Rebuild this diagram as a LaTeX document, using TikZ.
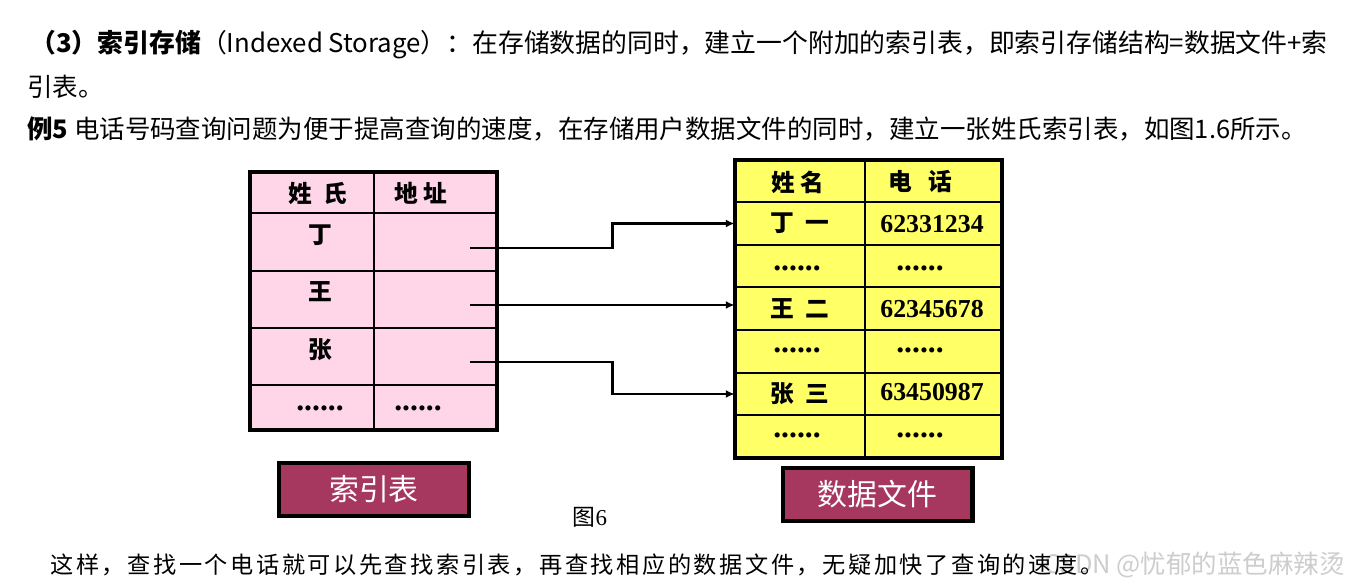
\documentclass[tikz,border=0pt]{standalone}
\usepackage{fontspec}
\setmainfont{Liberation Serif}
\newfontfamily\cjk{Noto Sans CJK SC}
\usetikzlibrary{arrows.meta}
\definecolor{idxpink}{RGB}{255,214,231}
\definecolor{datyellow}{RGB}{255,255,102}
\definecolor{tagplum}{RGB}{166,56,96}
\definecolor{wmgray}{RGB}{205,205,205}
\newcommand{\fsz}[1]{\fontsize{#1}{#1}\selectfont}
\tikzset{
  txt/.style={inner sep=0pt, anchor=west},
  celltxt/.style={inner sep=0pt, font=\cjk\bfseries\fsz{13.5pt}},
  numtxt/.style={inner sep=0pt, font=\bfseries\fsz{14.7pt}},
  dotstxt/.style={inner sep=0pt, font=\bfseries\fsz{18pt}},
  gridline/.style={line width=1.1pt},
  frame/.style={line width=2.2pt},
  ptr/.style={line width=1.7pt, -{Latex[length=5pt,width=4.5pt]}},
  tagbox/.style={draw=black, line width=2.3pt, fill=tagplum, text=white,
    minimum width=3.8cm, minimum height=1.06cm, inner sep=0pt, font=\cjk\fsz{17pt}},
}
\begin{document}
\begin{tikzpicture}[x=0.02cm, y=-0.02cm]
  \useasboundingbox[fill=white] (0,0) rectangle (1352,587);
  % heading text
  \node[txt, font=\cjk\fsz{14.7pt}] (para1a) at (30,45)
    {\textbf{（3）索引存储}（Indexed Storage）：在存储数据的同时，建立一个附加的索引表，即索引存储结构=数据文件+索};
  \node[txt, font=\cjk\fsz{14.5pt}] (para1b) at (27,87) {引表。};
  \node[txt, font=\cjk\fsz{14.5pt}] (ex5) at (27,129)
    {\textbf{例5} 电话号码查询问题为便于提高查询的速度，在存储用户数据文件的同时，建立一张姓氏索引表，如图1.6所示。};

  % index table
  \fill[idxpink] (250,172) rectangle (497,430);
  \draw[gridline] (374,172) -- (374,430);
  \foreach \y in {213,271,328,385}
    \draw[gridline] (250,\y) -- (497,\y);
  \draw[frame] (250,172) rectangle (497,430);
  \node[celltxt] (idxhead1) at (318,193) {姓\ \ 氏};
  \node[celltxt] (idxhead2) at (421,193) {地\ 址};
  \node[celltxt] (ding) at (320,235) {丁};
  \node[celltxt] (wang) at (320,292) {王};
  \node[celltxt] (zhang) at (320,350) {张};
  \node[dotstxt] (idxdots1) at (320,408) {......};
  \node[dotstxt] (idxdots2) at (418,408) {......};

  % data file table
  \fill[datyellow] (735,160) rectangle (1002,458);
  \draw[gridline] (865,160) -- (865,458);
  \foreach \y in {202,244.67,287.33,330,372.67,415.33}
    \draw[gridline] (735,\y) -- (1002,\y);
  \draw[frame] (735,160) rectangle (1002,458);
  \node[celltxt] (dathead1) at (798,182) {姓\ 名};
  \node[celltxt] (dathead2) at (920,182) {电\ \ \ 话};
  \node[celltxt, minimum width=2.6cm, minimum height=0.85cm] (dingyi) at (800,223.5) {丁\ \ 一};
  \node[celltxt, minimum width=2.6cm, minimum height=0.85cm] (wanger) at (800,308.5) {王\ \ 二};
  \node[celltxt, minimum width=2.6cm, minimum height=0.85cm] (zhangsan) at (800,394) {张\ \ 三};
  \node[numtxt] (tel1) at (932,224) {62331234};
  \node[numtxt] (tel2) at (932,309) {62345678};
  \node[numtxt] (tel3) at (932,392) {63450987};
  \foreach \y [count=\i] in {268,350,435} {
    \node[dotstxt] (datdotsa\i) at (797,\y) {......};
    \node[dotstxt] (datdotsb\i) at (920,\y) {......};
  }

  % pointers
  \coordinate (srcA) at (470,248);
  \coordinate (srcB) at (470,305);
  \coordinate (srcC) at (470,362);
  \coordinate (bendx) at (612,0);
  \draw[ptr] (srcA) -- (srcA -| bendx) |- (dingyi.west);
  \draw[ptr] (srcB) -- (srcB -| wanger.west);
  \draw[ptr] (srcC) -- (srcC -| bendx) |- (zhangsan.west);

  % captions
  \node[tagbox] (idxtag) at (374,489.5) {索引表};
  \node[tagbox] (dattag) at (877.5,494.5) {数据文件};
  \node[inner sep=0pt, font=\fsz{13pt}] (fig) at (590,517) {{\cjk 图}6};

  % closing line and watermark
  \node[inner sep=0pt, anchor=east, text=wmgray, font=\cjk\fsz{14.5pt}] (wm) at (1345,565) {CSDN @忧郁的蓝色麻辣烫};
  \node[txt, font=\cjk\fsz{13.2pt}\addfontfeature{LetterSpace=11}] (concl) at (50,565)
    {这样，查找一个电话就可以先查找索引表，再查找相应的数据文件，无疑加快了查询的速度。};
\end{tikzpicture}
\end{document}
